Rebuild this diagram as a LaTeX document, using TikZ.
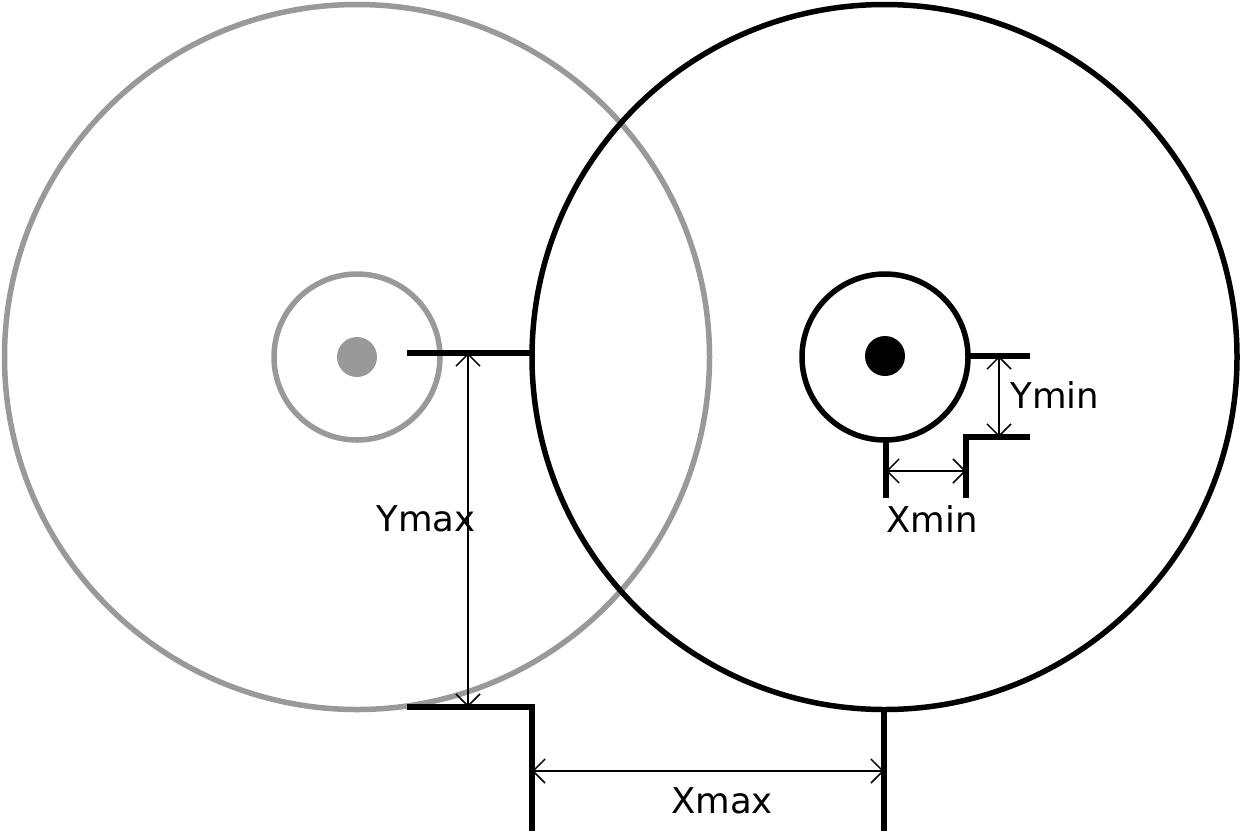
\documentclass[tikz,border=0pt]{standalone}
\usepackage{fontspec}
\setmainfont{DejaVu Sans}
\usepackage{tikz}
\usetikzlibrary{arrows.meta}
\definecolor{wheelgrey}{RGB}{153,153,153}
\begin{document}
\begin{tikzpicture}
[x=1pt,y=-1pt,line width=5.5pt,
dimarrow/.style={line width=1.5pt,{Straight Barb[length=12pt,width=24pt]}-{Straight Barb[length=12pt,width=24pt]}},
dimlabel/.style={inner sep=0pt,font=\fontsize{35.5}{40}\selectfont}]
\useasboundingbox (0,0) rectangle (1241,831);
\draw[wheelgrey] (357,357) circle (352.5pt); \draw[wheelgrey] (357,357) circle (83pt); \fill[wheelgrey] (357,357) circle (20pt);
\draw (884.5,357) circle (352.5pt); \draw (885,357) circle (83pt); \fill (885,356) circle (20pt);
\draw (407,353)--(532,353); \draw (407,707)--(532,707)--(532,831); \draw (884,709)--(884,831);
\draw (968,356)--(1030,356); \draw (1030,437)--(966,437)--(966,498); \draw (886,440)--(886,498);
\coordinate (ymaxtop) at (468,353); \coordinate (ymaxbot) at (468,707);
\coordinate (xmaxleft) at (532,771); \coordinate (xmaxright) at (884,771);
\coordinate (ymintop) at (999,356); \coordinate (yminbot) at (999,437);
\coordinate (xminleft) at (886,471); \coordinate (xminright) at (966,471);
\draw[dimarrow] (ymaxtop)--(ymaxbot); \draw[dimarrow] (xmaxleft)--(xmaxright);
\draw[dimarrow] (ymintop)--(yminbot); \draw[dimarrow] (xminleft)--(xminright);
\node[dimlabel] (ymax) at (426,519) {Ymax}; \node[dimlabel] (xmax) at (722,801) {Xmax};
\node[dimlabel] (ymin) at (1055,395) {Ymin}; \node[dimlabel] (xmin) at (932,519) {Xmin};
\end{tikzpicture}
\end{document}
